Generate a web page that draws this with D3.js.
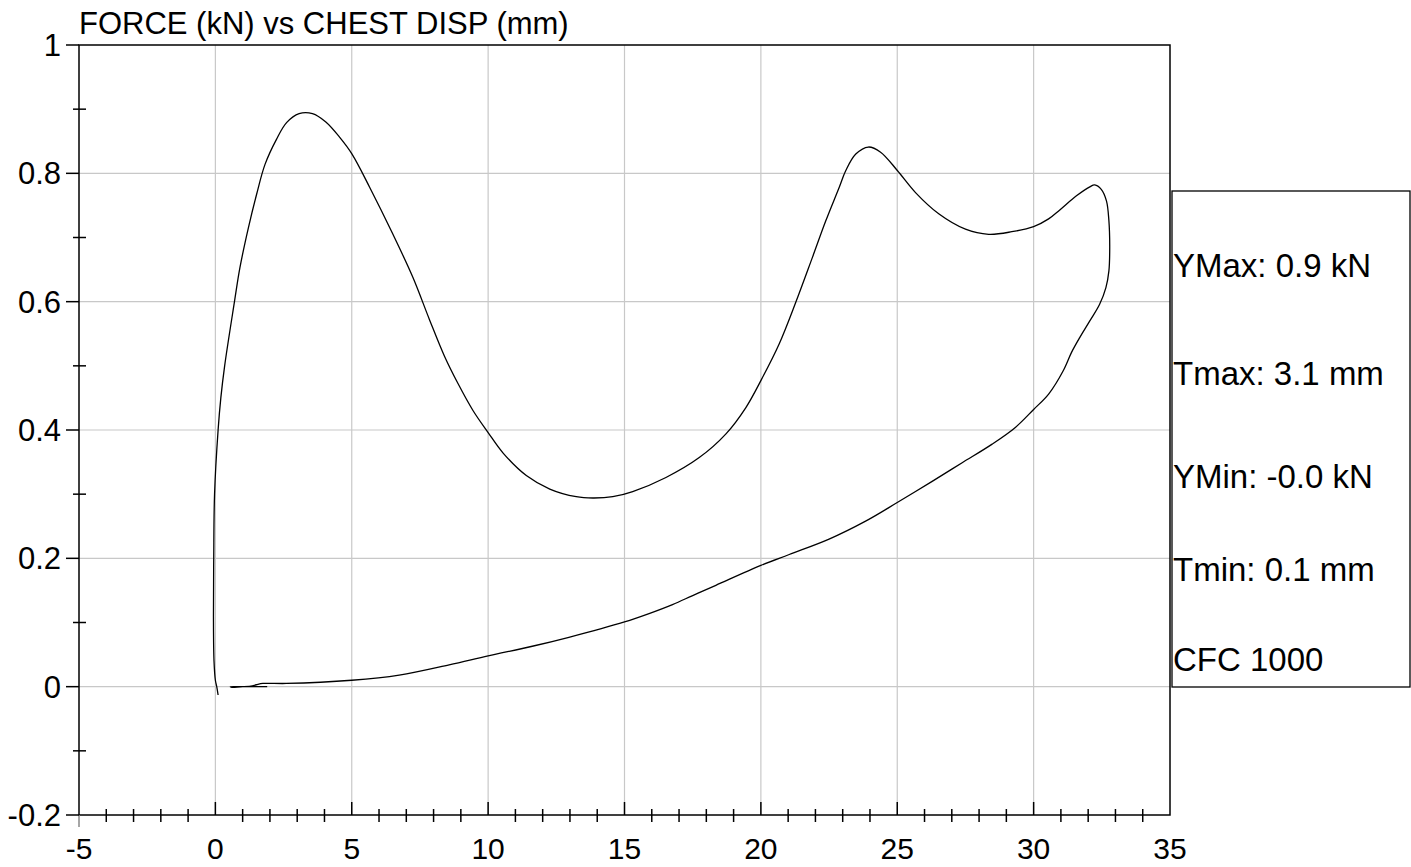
<!DOCTYPE html>
<html>
<head>
<meta charset="utf-8">
<script src="https://cdn.jsdelivr.net/npm/d3@7"></script>
<style>
  html, body { margin: 0; padding: 0; background: #fff; }
  svg { display: block; font-family: "Liberation Sans", Arial, sans-serif; }
</style>
</head>
<body>
<svg id="chart" width="1411" height="867"></svg>
<script>
// ---- data ----
const chestDisp = [0.10, 0.05, 0.00, -0.05, -0.07, -0.06, -0.03, 0.10, 0.20, 0.34, 0.70, 0.90, 1.21, 1.51, 1.82, 2.24, 2.61, 3.07, 3.56, 4.05, 4.56, 5.01, 5.66, 6.51, 7.24, 7.85, 8.40, 8.90, 9.45, 10.0, 10.55, 11.4, 12.26, 13.23, 13.84, 14.57, 15.3, 16.52, 17.74, 18.72, 19.45, 20.0, 20.67, 21.28, 21.89, 22.38, 22.87, 23.11, 23.48, 23.94, 24.39, 25.01, 25.67, 26.52, 27.5, 28.35, 29.2, 30.0, 30.55, 30.96, 31.57, 32.06, 32.24, 32.48, 32.67, 32.76, 32.79, 32.76, 32.65, 32.42, 32.06, 31.69, 31.39, 31.08, 30.55, 30.0, 29.33, 28.48, 27.38, 26.28, 25.0, 23.84, 22.5, 21.04, 20.0, 18.35, 17.5, 16.76, 15.9, 15.0, 12.96, 11.62, 10.0, 8.57, 6.74, 5.0, 2.6, 1.74, 1.5, 1.3, 0.9, 0.55, 0.6, 1.0, 1.9];
const force = [-0.013, 0.0, 0.01, 0.04, 0.109, 0.2, 0.3, 0.4, 0.45, 0.5, 0.6, 0.653, 0.715, 0.767, 0.814, 0.853, 0.879, 0.893, 0.893, 0.880, 0.856, 0.830, 0.778, 0.705, 0.638, 0.572, 0.515, 0.472, 0.430, 0.396, 0.364, 0.329, 0.308, 0.296, 0.294, 0.296, 0.304, 0.326, 0.357, 0.394, 0.435, 0.477, 0.534, 0.599, 0.669, 0.726, 0.778, 0.804, 0.830, 0.841, 0.833, 0.804, 0.770, 0.737, 0.713, 0.705, 0.709, 0.717, 0.729, 0.743, 0.765, 0.779, 0.782, 0.775, 0.757, 0.726, 0.685, 0.648, 0.622, 0.596, 0.570, 0.544, 0.521, 0.492, 0.456, 0.432, 0.404, 0.378, 0.349, 0.320, 0.287, 0.258, 0.230, 0.206, 0.189, 0.158, 0.142, 0.128, 0.114, 0.101, 0.077, 0.063, 0.048, 0.034, 0.018, 0.010, 0.005, 0.005, 0.003, 0.001, 0.0, 0.0, -0.001, 0.0, 0.0];
const xMajorTicks = [-5, 0, 5, 10, 15, 20, 25, 30, 35];
const xTickLabels = ["-5", "0", "5", "10", "15", "20", "25", "30", "35"];
const yMajorTicks = [-0.2, 0, 0.2, 0.4, 0.6, 0.8, 1];
const yTickLabels = ["-0.2", "0", "0.2", "0.4", "0.6", "0.8", "1"];
const titleText = "FORCE (kN) vs CHEST DISP (mm)";
const statsLines = ["YMax: 0.9 kN", "Tmax: 3.1 mm", "YMin: -0.0 kN", "Tmin: 0.1 mm", "CFC 1000"];

// ---- layout ----
const L = 79, R = 1170, T = 45, B = 815;
const svg = d3.select("#chart");
const x = d3.scaleLinear().domain([-5, 35]).range([L, R]);
const y = d3.scaleLinear().domain([-0.2, 1]).range([B, T]);

// grid
const grid = svg.append("g").attr("stroke", "#c8c8c8").attr("stroke-width", 1.2);
xMajorTicks.slice(1, -1).forEach(v => {
  grid.append("line").attr("x1", x(v)).attr("x2", x(v)).attr("y1", T).attr("y2", B);
});
yMajorTicks.slice(1, -1).forEach(v => {
  grid.append("line").attr("x1", L).attr("x2", R).attr("y1", y(v)).attr("y2", y(v));
});

// curve
const pts = chestDisp.map((d, i) => [d, force[i]]);
svg.append("path")
  .datum(pts)
  .attr("fill", "none")
  .attr("stroke", "#000")
  .attr("stroke-width", 1.3)
  .attr("d", d3.line().x(d => x(d[0])).y(d => y(d[1])).curve(d3.curveCatmullRom.alpha(0.5)));

// frame
svg.append("rect").attr("x", L).attr("y", T).attr("width", R - L).attr("height", B - T)
  .attr("fill", "none").attr("stroke", "#000").attr("stroke-width", 1.5);

// x axis ticks
const xAxis = svg.append("g").attr("stroke", "#000").attr("stroke-width", 1.5);
d3.range(-4, 35).forEach(v => {
  if (v % 5 === 0) {
    xAxis.append("line").attr("x1", x(v)).attr("x2", x(v)).attr("y1", B).attr("y2", B - 13);
  } else {
    xAxis.append("line").attr("x1", x(v)).attr("x2", x(v)).attr("y1", B - 6).attr("y2", B + 7);
  }
});
xAxis.append("line").attr("x1", x(-5)).attr("x2", x(-5)).attr("y1", B).attr("y2", B + 12).attr("stroke", "#888");

// y axis ticks
const yAxis = svg.append("g").attr("stroke", "#000").attr("stroke-width", 1.5);
yMajorTicks.forEach(v => {
  yAxis.append("line").attr("x1", L - 13).attr("x2", L).attr("y1", y(v)).attr("y2", y(v));
});
d3.range(-0.1, 1.0, 0.2).forEach(v => {
  yAxis.append("line").attr("x1", L - 6).attr("x2", L + 7).attr("y1", y(v)).attr("y2", y(v));
});

// tick labels
svg.append("g").selectAll("text").data(xMajorTicks).join("text")
  .attr("x", d => x(d)).attr("y", 859)
  .attr("text-anchor", "middle").attr("font-size", 30).attr("fill", "#000")
  .text((d, i) => xTickLabels[i]);
svg.append("g").selectAll("text").data(yMajorTicks).join("text")
  .attr("x", 61).attr("y", d => y(d) + 11)
  .attr("text-anchor", "end").attr("font-size", 31).attr("fill", "#000")
  .text((d, i) => yTickLabels[i]);

// title
svg.append("text").attr("x", 79).attr("y", 34).attr("font-size", 31).attr("fill", "#000").text(titleText);

// stats box
svg.append("rect").attr("x", 1172).attr("y", 191).attr("width", 238).attr("height", 496)
  .attr("fill", "#fff").attr("stroke", "#000").attr("stroke-width", 1.3);
const statY = [277, 385, 488, 581, 671];
svg.append("g").selectAll("text").data(statsLines).join("text")
  .attr("x", 1173).attr("y", (d, i) => statY[i])
  .attr("font-size", 33).attr("fill", "#000").text(d => d);
</script>
</body>
</html>
